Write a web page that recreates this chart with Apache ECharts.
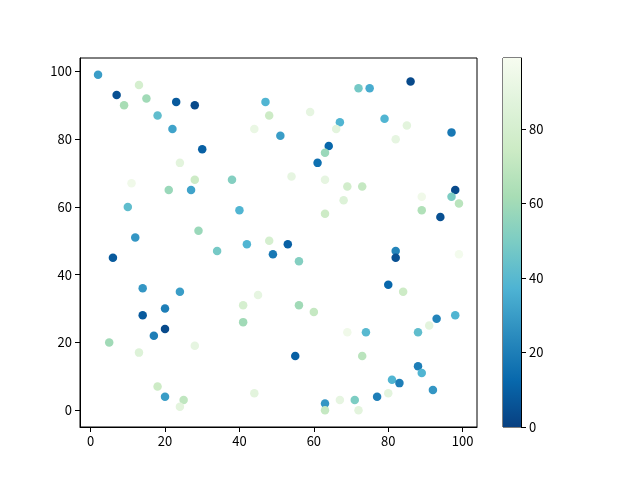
<!DOCTYPE html>
<html>
<head>
<meta charset="utf-8">
<script src="https://cdn.jsdelivr.net/npm/echarts@6/dist/echarts.min.js"></script>
<style>
  html, body { margin: 0; padding: 0; background: #fff; }
  #main { width: 640px; height: 480px; }
</style>
</head>
<body>
<div id="main"></div>
<script>
// scatter data: x, y, colour value
var xs = [2, 7, 13, 9, 15, 23, 28, 18, 22, 47, 48, 44, 51, 30, 24, 28, 38, 11, 21, 27,
  10, 40, 29, 12, 86, 72, 75, 59, 67, 66, 79, 85, 82, 97, 64, 63, 61, 54, 63, 69,
  73, 68, 63, 89, 98, 97, 99, 89, 94, 6, 34, 42, 48, 49, 53, 14, 24, 45, 41, 41,
  20, 14, 20, 17, 5, 13, 28, 18, 20, 25, 24, 44, 56, 82, 82, 99, 80, 84, 56, 60,
  69, 74, 88, 91, 93, 98, 55, 73, 88, 89, 81, 83, 92, 77, 80, 63, 63, 67, 71, 72];
var ys = [99, 93, 96, 90, 92, 91, 90, 87, 83, 91, 87, 83, 81, 77, 73, 68, 68, 67, 65, 65,
  60, 59, 53, 51, 97, 95, 95, 88, 85, 83, 86, 84, 80, 82, 78, 76, 73, 69, 68, 66,
  66, 62, 58, 63, 65, 63, 61, 59, 57, 45, 47, 49, 50, 46, 49, 36, 35, 34, 31, 26,
  30, 28, 24, 22, 20, 17, 19, 7, 4, 3, 1, 5, 44, 47, 45, 46, 37, 35, 31, 29,
  23, 23, 23, 25, 27, 28, 16, 16, 13, 11, 9, 8, 6, 4, 5, 2, 0, 3, 3, 0];
var cs = [30, 5, 80, 62, 60, 8, 3, 42, 32, 38, 75, 92, 30, 10, 88, 75, 52, 95, 58, 32,
  42, 38, 58, 28, 3, 48, 35, 90, 38, 88, 38, 88, 90, 18, 12, 58, 15, 90, 90, 78,
  72, 85, 75, 95, 3, 50, 68, 65, 5, 8, 48, 38, 80, 18, 10, 28, 30, 90, 80, 60,
  20, 8, 3, 20, 60, 85, 90, 75, 30, 70, 88, 88, 52, 22, 5, 97, 12, 75, 60, 72,
  95, 40, 42, 88, 22, 38, 10, 68, 20, 38, 38, 20, 28, 20, 88, 28, 72, 90, 50, 88];

var xTicks = [0, 20, 40, 60, 80, 100];
var yTicks = [0, 20, 40, 60, 80, 100];
var cbTicks = [0, 20, 40, 60, 80];
var cMin = 0, cMax = 99;

// GnBu reversed
var palette = ['#084081', '#0868ac', '#2b8cbe', '#4eb3d3', '#7bccc4',
  '#a8ddb5', '#ccebc5', '#e0f3db', '#f7fcf0'];

var points = [];
for (var i = 0; i < xs.length; i++) {
  points.push([xs[i], ys[i], cs[i]]);
}

var stops = palette.map(function(c, i) {
  return { offset: i / (palette.length - 1), color: c };
});

var font = 'Noto Sans CJK SC';
var labelStyle = { color: '#000', fontSize: 13, fontFamily: font };

var chart = echarts.init(document.getElementById('main'));
var option = {
  animation: false,
  backgroundColor: '#fff',
  grid: [
    { left: 80, right: 163, top: 58, bottom: 53, show: true, borderColor: '#000', borderWidth: 1 },
    { left: 503, width: 18, top: 58, bottom: 53, show: true, borderColor: '#000', borderWidth: 1 }
  ],
  visualMap: {
    show: false,
    type: 'continuous',
    seriesIndex: 0,
    dimension: 2,
    min: cMin,
    max: cMax,
    inRange: { color: palette }
  },
  xAxis: [{
    gridIndex: 0,
    type: 'value',
    min: -2.85,
    max: 103.85,
    splitLine: { show: false },
    axisLine: { show: true, onZero: false, lineStyle: { color: '#000' } },
    axisTick: { show: true, length: 5, customValues: xTicks, lineStyle: { color: '#000' } },
    axisLabel: Object.assign({ customValues: xTicks, margin: 8 }, labelStyle)
  }, {
    gridIndex: 1,
    type: 'category',
    data: ['c'],
    show: false
  }],
  yAxis: [{
    gridIndex: 0,
    type: 'value',
    min: -4.95,
    max: 103.95,
    splitLine: { show: false },
    axisLine: { show: true, onZero: false, lineStyle: { color: '#000' } },
    axisTick: { show: true, length: 5, customValues: yTicks, lineStyle: { color: '#000' } },
    axisLabel: Object.assign({ customValues: yTicks, margin: 8 }, labelStyle)
  }, {
    gridIndex: 1,
    type: 'value',
    position: 'right',
    min: cMin,
    max: cMax,
    splitLine: { show: false },
    axisLine: { show: true, lineStyle: { color: '#000' } },
    axisTick: { show: true, length: 5, customValues: cbTicks, lineStyle: { color: '#000' } },
    axisLabel: Object.assign({ customValues: cbTicks, margin: 8 }, labelStyle)
  }],
  series: [{
    type: 'scatter',
    xAxisIndex: 0,
    yAxisIndex: 0,
    symbolSize: 8.5,
    itemStyle: { opacity: 1 },
    data: points
  }, {
    type: 'bar',
    xAxisIndex: 1,
    yAxisIndex: 1,
    barWidth: '100%',
    silent: true,
    data: [cMax],
    itemStyle: {
      color: new echarts.graphic.LinearGradient(0, 1, 0, 0, stops)
    }
  }]
};
chart.setOption(option);
</script>
</body>
</html>
